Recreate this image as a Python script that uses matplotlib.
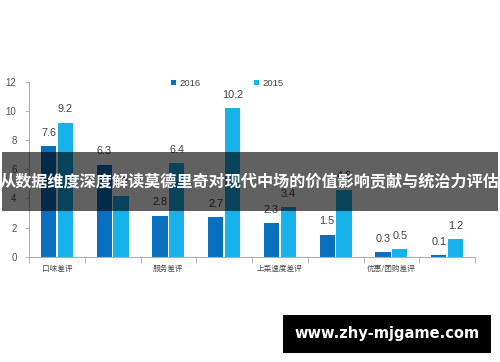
import matplotlib
matplotlib.use("Agg")
import matplotlib.pyplot as plt
from matplotlib.patches import Rectangle
import numpy as np

categories = ['口味差评', '', '服务差评', '', '上菜速度差评', '', '优惠/团购差评', '']
series_names = ['2016', '2015']
values_2016 = [7.6, 6.3, 2.8, 2.7, 2.3, 1.5, 0.3, 0.1]
values_2015 = [9.2, 4.2, 6.4, 10.2, 3.4, 4.6, 0.5, 1.2]
y_ticks = [0, 2, 4, 6, 8, 10, 12]
title_text = '从数据维度深度解读莫德里奇对现代中场的价值影响贡献与统治力评估'
watermark_text = 'www.zhy-mjgame.com'

c2016 = '#0b6fc0'
c2015 = '#17b2ea'
txt_gray = '#555555'

plt.rcParams['font.family'] = ['Liberation Sans', 'Noto Sans CJK SC', 'DejaVu Sans']

fig = plt.figure(figsize=(5.0, 3.62), dpi=100)
ax = fig.add_axes([0.058, 0.291, 0.892, 0.4826])

x = np.arange(len(categories))
w = 0.27
off = 0.15
b1 = ax.bar(x - off, values_2016, w, color=c2016, label=series_names[0], zorder=2)
b2 = ax.bar(x + off, values_2015, w, color=c2015, label=series_names[1], zorder=2)

for bars, vals in ((b1, values_2016), (b2, values_2015)):
    for r, v in zip(bars, vals):
        ax.annotate(f'{v:.1f}', (r.get_x() + r.get_width() / 2, v),
                    xytext=(0, 13.5), textcoords='offset pixels',
                    ha='center', va='center', fontsize=7.8, color='#404040')

ax.set_xlim(-0.5, len(categories) - 0.5)
ax.set_ylim(0, 12)
ax.set_yticks(y_ticks)
ax.set_yticklabels([str(t) for t in y_ticks])
ax.tick_params(axis='y', labelsize=7, colors=txt_gray, length=3, width=0.6, pad=6)

ax.set_xticks(x)
ax.set_xticklabels(categories, fontsize=5.5, color='#444444',
                   family=['Noto Sans CJK SC', 'DejaVu Sans'])
ax.tick_params(axis='x', which='major', length=0, pad=6)
ax.set_xticks(np.arange(len(categories) + 1) - 0.5, minor=True)
ax.tick_params(axis='x', which='minor', length=4, width=0.6, color='#aaaaaa')
ax.tick_params(axis='y', color='#aaaaaa')

for s in ('top', 'right'):
    ax.spines[s].set_visible(False)
for s in ('left', 'bottom'):
    ax.spines[s].set_color('#b0b0b0')
    ax.spines[s].set_linewidth(0.8)

leg = ax.legend(ncol=2, loc='upper left', bbox_to_anchor=(0.31, 1.04),
                frameon=False, fontsize=6.8, handlelength=0.55, handleheight=0.55,
                handletextpad=0.35, columnspacing=5.6, borderaxespad=0)
for t in leg.get_texts():
    t.set_color('#404040')

# translucent banner with title
fig.patches.append(Rectangle((0.004, 0.417), 0.992, 0.163, transform=fig.transFigure,
                             facecolor='black', alpha=0.62, edgecolor='none', zorder=5))
fig.text(0.5, 0.4986, title_text, ha='center', va='center', color='white',
         fontsize=11.6, fontweight='bold', zorder=6,
         family=['Noto Sans CJK SC', 'DejaVu Sans'])

# watermark
fig.patches.append(Rectangle((0.566, 0.0249), 0.416, 0.105, transform=fig.transFigure,
                             facecolor='black', edgecolor='none', zorder=5))
fig.text(0.774, 0.0775, watermark_text, ha='center', va='center', color='white',
         fontsize=10.5, fontweight='bold', zorder=6, family='DejaVu Sans')

fig.savefig('out.png', dpi=100)
